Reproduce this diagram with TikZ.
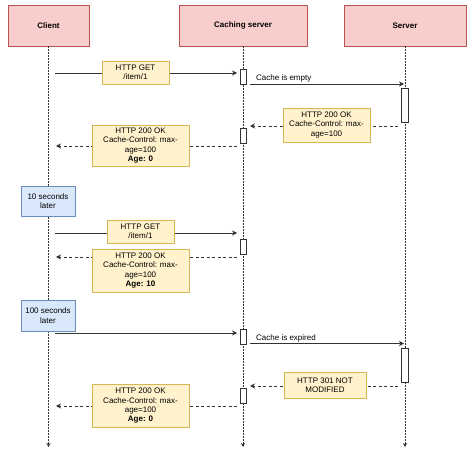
\documentclass[tikz,border=0pt]{standalone}
\usepackage{fontspec}
\setmainfont{Liberation Sans}
\usetikzlibrary{arrows.meta, positioning}
\definecolor{actorFill}{HTML}{F8CECC}
\definecolor{actorLine}{HTML}{B85450}
\definecolor{noteFill}{HTML}{FFF2CC}
\definecolor{noteLine}{HTML}{D6B656}
\definecolor{pauseFill}{HTML}{DAE8FC}
\definecolor{pauseLine}{HTML}{6C8EBF}
\definecolor{ink}{HTML}{333333}
\tikzset{
    actor/.style={rectangle, draw=actorLine, fill=actorFill, minimum height=41pt, font=\fontsize{8}{9.3}\selectfont\bfseries},
    note/.style={rectangle, draw=noteLine, fill=noteFill, align=center, inner sep=1pt, font=\fontsize{8}{9.3}\selectfont},
    pause/.style={rectangle, draw=pauseLine, fill=pauseFill, align=center, minimum width=54pt, minimum height=30pt, inner sep=1pt, font=\fontsize{8}{9.3}\selectfont},
    activation/.style={rectangle, draw=ink, fill=white, minimum width=6pt, minimum height=15pt, inner sep=0pt},
    lifeline/.style={ink, line width=0.7pt, dash pattern=on 1.5pt off 1.5pt, -{Stealth[length=4pt, width=4pt]}},
    request/.style={ink, line width=0.8pt, -{Stealth[length=5pt, width=5pt]}},
    reply/.style={ink, line width=0.8pt, dash pattern=on 3pt off 2.5pt, -{Stealth[length=5pt, width=5pt]}},
    msglabel/.style={anchor=west, inner sep=0pt, font=\fontsize{8}{9.3}\selectfont}
}

\begin{document}
\begin{tikzpicture}[x=1pt, y=-1pt]
        \useasboundingbox (0,0) rectangle (474,457);

        % Participants
        \node (client) [actor, minimum width=81pt] at (48.5,25.5) {Client};
        \node (cache) [actor, minimum width=128pt] at (243,25.5) {Caching server};
        \node (server) [actor, minimum width=122pt] at (405,25.5) {Server};

        % Lifelines
        \coordinate (clientEnd) at (48.5,447);
        \coordinate (cacheEnd) at (243,447);
        \coordinate (serverEnd) at (405,447);
        \draw[lifeline] (client) -- (clientEnd);
        \draw[lifeline] (cache) -- (cacheEnd);
        \draw[lifeline] (server) -- (serverEnd);

        % Activations
        \node (actA) [activation] at (243,77) {};
        \node (actB) [activation] at (243,135.5) {};
        \node (actC) [activation] at (243,246.5) {};
        \node (actD) [activation] at (243,336.5) {};
        \node (actE) [activation] at (243,395.5) {};
        \node (srvA) [activation, minimum width=7pt, minimum height=34pt] at (405,105) {};
        \node (srvB) [activation, minimum width=7pt, minimum height=34pt] at (405,365) {};

        % First request
        \coordinate (getAs) at (55,73);
        \coordinate (getAe) at (237,73);
        \draw[request] (getAs) -- (getAe);
        \node (getAlabel) [note, minimum width=67pt, minimum height=23pt] at (135.5,72.5) {HTTP GET\\/item/1};

        \coordinate (fwdAs) at (250,84);
        \coordinate (fwdAe) at (404,84);
        \draw[request] (fwdAs) -- (fwdAe);
        \node (fwdAlabel) [msglabel] at (256,78) {Cache is empty};

        \coordinate (okAs) at (398,126);
        \coordinate (okAe) at (250,126);
        \draw[reply] (okAs) -- (okAe);
        \node (okAlabel) [note, minimum width=87pt, minimum height=34pt] at (326.5,125) {HTTP 200 OK\\Cache-Control: max-\\age=100};

        \coordinate (backAs) at (237,146);
        \coordinate (backAe) at (56,146);
        \draw[reply] (backAs) -- (backAe);
        \node (backAlabel) [note, minimum width=97pt, minimum height=41pt] at (140.5,145.5) {HTTP 200 OK\\Cache-Control: max-\\age=100\\\textbf{Age: 0}};

        % Second request
        \node (waitA) [pause] at (48,201) {10 seconds\\later};

        \coordinate (getBs) at (55,233);
        \coordinate (getBe) at (237,233);
        \draw[request] (getBs) -- (getBe);
        \node (getBlabel) [note, minimum width=67pt, minimum height=23pt] at (140.5,231.5) {HTTP GET\\/item/1};

        \coordinate (backBs) at (237,257);
        \coordinate (backBe) at (56,257);
        \draw[reply] (backBs) -- (backBe);
        \node (backBlabel) [note, minimum width=97pt, minimum height=43pt] at (140.5,270.5) {HTTP 200 OK\\Cache-Control: max-\\age=100\\\textbf{Age: 10}};

        % Third request
        \node (waitB) [pause, minimum height=31pt] at (48,315.5) {100 seconds\\later};

        \coordinate (getCs) at (55,333);
        \coordinate (getCe) at (237,333);
        \draw[request] (getCs) -- (getCe);

        \coordinate (fwdBs) at (250,343.5);
        \coordinate (fwdBe) at (404,343.5);
        \draw[request] (fwdBs) -- (fwdBe);
        \node (fwdBlabel) [msglabel] at (256,338) {Cache is expired};

        \coordinate (nmBs) at (398,386);
        \coordinate (nmBe) at (250,386);
        \draw[reply] (nmBs) -- (nmBe);
        \node (nmBlabel) [note, minimum width=82pt, minimum height=26pt] at (325,385) {HTTP 301 NOT\\MODIFIED};

        \coordinate (backCs) at (237,406);
        \coordinate (backCe) at (56,406);
        \draw[reply] (backCs) -- (backCe);
        \node (backClabel) [note, minimum width=97pt, minimum height=43pt] at (140.5,406) {HTTP 200 OK\\Cache-Control: max-\\age=100\\\textbf{Age: 0}};

    \end{tikzpicture}
\end{document}
